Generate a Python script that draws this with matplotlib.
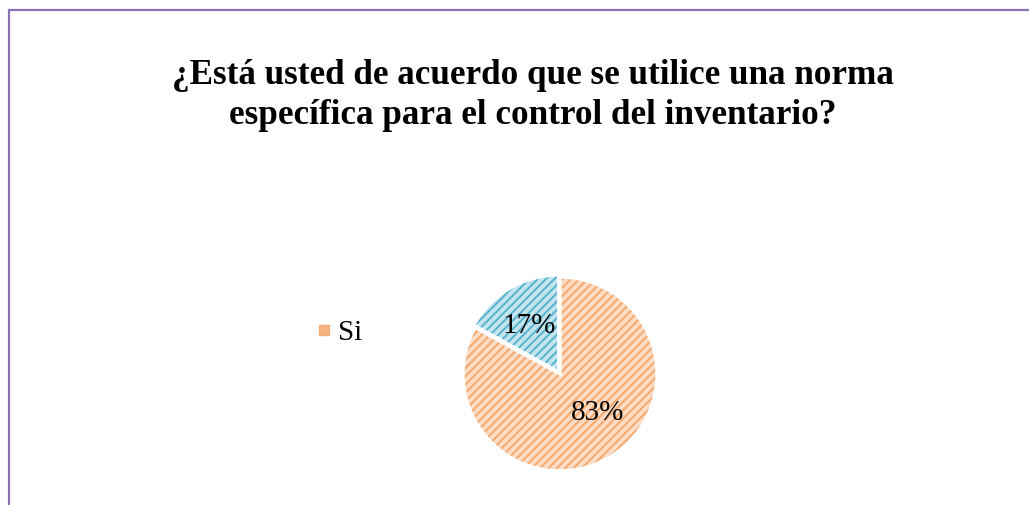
import matplotlib
matplotlib.use('Agg')
from matplotlib import pyplot as plt
from matplotlib.patches import Rectangle
from matplotlib.lines import Line2D

title = '¿Está usted de acuerdo que se utilice una norma\nespecífica para el control del inventario?'
labels = ['Si', 'No']
values = [83, 17]
stripe_colors = ['#F6A86C', '#56B3CD']
base_colors = ['#FCDCC4', '#C4E5EF']
explode = [0, 0.025]

plt.rcParams['font.family'] = ['Liberation Serif', 'DejaVu Serif']
plt.rcParams['hatch.linewidth'] = 1.4

fig = plt.figure(figsize=(10.29, 5.05), dpi=100)

# purple frame, cut off on the right and bottom like the source image
fig.patches.append(Rectangle((9 / 1029, -0.1), 1.2, 1.1 - 11 / 505 + 0.002,
                             transform=fig.transFigure, fill=False,
                             edgecolor='#8B71B8', linewidth=1.6))

fig.text(533 / 1029, 1 - 96 / 505, title, ha='center', va='center',
         fontsize=25.3, fontweight='bold', linespacing=1.28)

ax = fig.add_axes([0.4405, 0.0481, 0.2074, 0.4226])
wedges, texts, autotexts = ax.pie(values, colors=base_colors, startangle=90,
                                  counterclock=False, explode=explode,
                                  autopct='%1.0f%%', pctdistance=0.6,
                                  wedgeprops=dict(linewidth=0),
                                  textprops=dict(fontsize=21, color='black'))
for w, c in zip(wedges, stripe_colors):
    w.set_hatch('////')
    w.set_edgecolor(c)
    w.set_linewidth(0)
# white separators
ax.pie(values, colors=['none', 'none'], startangle=90, counterclock=False,
       explode=explode, wedgeprops=dict(linewidth=2.5, edgecolor='white'))
autotexts[0].set_position((0.39, -0.4))
autotexts[1].set_position((-0.32, 0.5))
ax.set_xlim(-1.1, 1.1)
ax.set_ylim(-1.1, 1.1)
ax.set_aspect('equal')

handle = Line2D([], [], marker='s', linestyle='none', markersize=7,
                color=stripe_colors[0], alpha=0.85)
fig.legend([handle], labels[:1], loc='center left',
           bbox_to_anchor=(286 / 1029, 1 - 333 / 505), frameon=False,
           fontsize=21, handlelength=0.8, handletextpad=0.1)

fig.savefig('out.png', dpi=100)
